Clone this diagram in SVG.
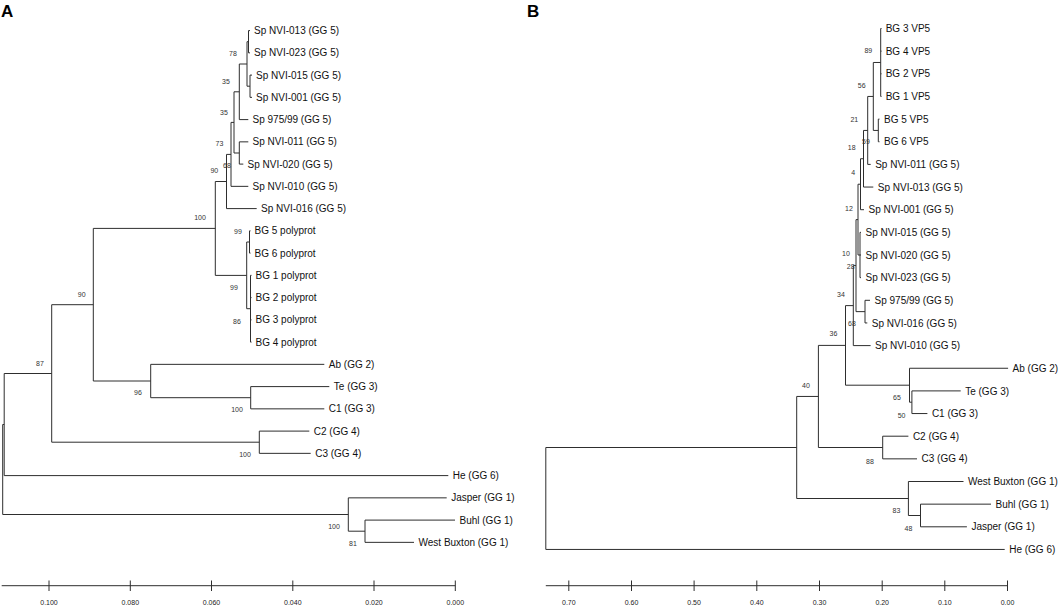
<svg xmlns="http://www.w3.org/2000/svg" width="1059" height="606" viewBox="0 0 1059 606">
<style>
.br{fill:none;stroke:#2e2e2e;stroke-width:1}
.tx{font-family:"Liberation Sans",Arial,sans-serif;font-size:10px;fill:#111}
.bs{font-family:"Liberation Sans",Arial,sans-serif;font-size:7px;fill:#333;text-anchor:middle}
.ax{font-family:"Liberation Sans",Arial,sans-serif;font-size:7px;fill:#222;text-anchor:middle}
.pl{font-family:"Liberation Sans",Arial,sans-serif;font-size:17px;font-weight:bold;fill:#000}
</style>
<rect width="1059" height="606" fill="#fff"/>
<text class="pl" x="1" y="17">A</text>
<text class="pl" x="527" y="17">B</text>

<g id="connectors">
<path id="treeA" class="br" d="M2.7 424.5V514.5M2.7 424.5H4.2M4.2 373.5V475.6M4.2 475.6H448.3
M4.2 373.5H51.7M51.7 304.7V442.2M51.7 304.7H93.3M93.3 228.4V381
M93.3 228.4H215.3M215.3 181.5V275.4M215.3 181.5H226.5M226.5 154.4V208.6M226.5 208.6H256.7
M226.5 154.4H231M231 122.4V186.35M231 186.35H248.3M231 122.4H234M234 91.8V153
M234 153H239.3M239.3 141.85V164.1M239.3 141.85H248.3M239.3 164.1H243.3
M234 91.8H239.3M239.3 64V119.6M239.3 119.6H248.3M239.3 64H247M247 41.7V86.2
M247 41.7H248.5M248.5 30.6V52.85M248.5 30.6H250M248.5 52.85H250
M247 86.2H250M250 75.1V97.35M250 75.1H252M250 97.35H252
M215.3 275.4H246.7M246.7 242V308.7M246.7 242H249.5M249.5 230.85V253.1M249.5 230.85H250.5M249.5 253.1H250.5
M246.7 308.7H250.5M250.5 275.35V342.1M250.5 275.35H251.5M250.5 297.6H251.5M250.5 319.85H251.5M250.5 342.1H251.5
M93.3 381H150.7M150.7 364.35V397.7M150.7 364.35H324.3M150.7 397.7H250.7M250.7 386.6V408.85M250.7 386.6H329.3M250.7 408.85H324.3
M51.7 442.2H259.3M259.3 431.1V453.35M259.3 431.1H309.3M259.3 453.35H310.7
M2.7 514.5H348.3M348.3 497.85V531.2M348.3 497.85H446.7M348.3 531.2H365M365 520.1V542.35M365 520.1H455M365 542.35H414"/>
<path id="treeB" class="br" d="M545.8 447.5V549.45M545.8 549.45H1004.7M545.8 447.5H796.7M796.7 396.45V498.5
M796.7 498.5H908.4M908.4 481.5V515.5M908.4 481.5H963.5M908.4 515.5H920.5M920.5 504.15V526.8M920.5 504.15H991M920.5 526.8H966.9
M796.7 396.45H818.4M818.4 345.4V447.5M818.4 447.5H882.7M882.7 436.2V458.85M882.7 436.2H908.4M882.7 458.85H917
M818.4 345.4H845.5M845.5 305.61V385.2M845.5 385.2H909.5M909.5 368.25V402.2M909.5 368.25H1008.1M909.5 402.2H911.9M911.9 390.9V413.55M911.9 390.9H960.7M911.9 413.55H927.4
M845.5 305.61H853.3M853.3 265.62V345.6M853.3 345.6H870.6M853.3 265.62H856M856 219.61V311.63
M856 311.63H865M865 300.3V322.95M865 300.3H870M865 322.95H867.3
M856 219.61H858M858 184.22V255M858 255H860M860 232.35V277.65M860 232.35H861M860 255H861M860 277.65H861
M858 184.22H860.5M860.5 158.74V209.7M860.5 209.7H864M860.5 158.74H863.5M863.5 130.43V187.05M863.5 187.05H873.3
M863.5 130.43H867.7M867.7 96.45V164.4M867.7 164.4H870.7M867.7 96.45H873.3M873.3 62.48V130.43
M873.3 130.43H878.3M878.3 119.1V141.75M878.3 119.1H879.5M878.3 141.75H879.5
M873.3 62.48H880.7M880.7 28.5V96.45M880.7 28.5H881.5M880.7 51.15H881.5M880.7 73.8H881.5M880.7 96.45H881.5"/>
</g>

<g id="axisA">
<path class="br" d="M1.7 585.7H455.3M49 580.5V591M130.3 580.5V591M211.5 580.5V591M292.8 580.5V591M374 580.5V591M455.3 580.5V591"/>
<text class="ax" x="49" y="604.5">0.100</text>
<text class="ax" x="130.3" y="604.5">0.080</text>
<text class="ax" x="211.5" y="604.5">0.060</text>
<text class="ax" x="292.8" y="604.5">0.040</text>
<text class="ax" x="374" y="604.5">0.020</text>
<text class="ax" x="455.3" y="604.5">0.000</text>
</g>
<g id="axisB">
<path class="br" d="M545.8 585.7H1007.5M568.8 580.5V591M631.5 580.5V591M694.1 580.5V591M756.8 580.5V591M819.5 580.5V591M882.2 580.5V591M944.8 580.5V591M1007.5 580.5V591"/>
<text class="ax" x="568.8" y="604.5">0.70</text>
<text class="ax" x="631.5" y="604.5">0.60</text>
<text class="ax" x="694.1" y="604.5">0.50</text>
<text class="ax" x="756.8" y="604.5">0.40</text>
<text class="ax" x="819.5" y="604.5">0.30</text>
<text class="ax" x="882.2" y="604.5">0.20</text>
<text class="ax" x="944.8" y="604.5">0.10</text>
<text class="ax" x="1007.5" y="604.5">0.00</text>
</g>

<g id="taxaA">
<g id="a-nvi013"><text class="tx" x="254" y="34.2">Sp NVI-013 (GG 5)</text></g>
<g id="a-nvi023"><text class="tx" x="254" y="56.45">Sp NVI-023 (GG 5)</text></g>
<g id="a-nvi015"><text class="tx" x="256" y="78.7">Sp NVI-015 (GG 5)</text></g>
<g id="a-nvi001"><text class="tx" x="256" y="100.95">Sp NVI-001 (GG 5)</text></g>
<g id="a-sp975"><text class="tx" x="252.5" y="123.2">Sp 975/99 (GG 5)</text></g>
<g id="a-nvi011"><text class="tx" x="252.5" y="145.45">Sp NVI-011 (GG 5)</text></g>
<g id="a-nvi020"><text class="tx" x="247.5" y="167.7">Sp NVI-020 (GG 5)</text></g>
<g id="a-nvi010"><text class="tx" x="252.5" y="189.95">Sp NVI-010 (GG 5)</text></g>
<g id="a-nvi016"><text class="tx" x="261" y="212.2">Sp NVI-016 (GG 5)</text></g>
<g id="a-bg5"><text class="tx" x="254.5" y="234.45">BG 5 polyprot</text></g>
<g id="a-bg6"><text class="tx" x="254.5" y="256.7">BG 6 polyprot</text></g>
<g id="a-bg1"><text class="tx" x="255.5" y="278.95">BG 1 polyprot</text></g>
<g id="a-bg2"><text class="tx" x="255.5" y="301.2">BG 2 polyprot</text></g>
<g id="a-bg3"><text class="tx" x="255.5" y="323.45">BG 3 polyprot</text></g>
<g id="a-bg4"><text class="tx" x="255.5" y="345.7">BG 4 polyprot</text></g>
<g id="a-ab"><text class="tx" x="328.8" y="367.95">Ab (GG 2)</text></g>
<g id="a-te"><text class="tx" x="333.8" y="390.2">Te (GG 3)</text></g>
<g id="a-c1"><text class="tx" x="328.8" y="412.45">C1 (GG 3)</text></g>
<g id="a-c2"><text class="tx" x="313.8" y="434.7">C2 (GG 4)</text></g>
<g id="a-c3"><text class="tx" x="315.2" y="456.95">C3 (GG 4)</text></g>
<g id="a-he"><text class="tx" x="452.8" y="479.2">He (GG 6)</text></g>
<g id="a-jasper"><text class="tx" x="451.2" y="501.45">Jasper (GG 1)</text></g>
<g id="a-buhl"><text class="tx" x="459.5" y="523.7">Buhl (GG 1)</text></g>
<g id="a-wb"><text class="tx" x="418.5" y="545.95">West Buxton (GG 1)</text></g>
</g>

<g id="bootA">
<text class="bs" x="233" y="55.5">78</text>
<text class="bs" x="226" y="83.5">35</text>
<text class="bs" x="224" y="114.5">35</text>
<text class="bs" x="219.5" y="145.8">73</text>
<text class="bs" x="227" y="167.5">68</text>
<text class="bs" x="214.3" y="172.5">90</text>
<text class="bs" x="200" y="219.5">100</text>
<text class="bs" x="238" y="233.5">99</text>
<text class="bs" x="234" y="289.5">99</text>
<text class="bs" x="237" y="323.5">86</text>
<text class="bs" x="81.7" y="296.5">90</text>
<text class="bs" x="40" y="365.5">87</text>
<text class="bs" x="138" y="394.5">96</text>
<text class="bs" x="237" y="411.5">100</text>
<text class="bs" x="245" y="456.5">100</text>
<text class="bs" x="334" y="528.5">100</text>
<text class="bs" x="353" y="545.5">81</text>
</g>

<g id="taxaB">
<g id="b-bg3"><text class="tx" x="885.7" y="32.1">BG 3 VP5</text></g>
<g id="b-bg4"><text class="tx" x="885.7" y="54.75">BG 4 VP5</text></g>
<g id="b-bg2"><text class="tx" x="885.7" y="77.4">BG 2 VP5</text></g>
<g id="b-bg1"><text class="tx" x="885.7" y="100.05">BG 1 VP5</text></g>
<g id="b-bg5"><text class="tx" x="884" y="122.7">BG 5 VP5</text></g>
<g id="b-bg6"><text class="tx" x="884" y="145.35">BG 6 VP5</text></g>
<g id="b-nvi011"><text class="tx" x="875.2" y="168">Sp NVI-011 (GG 5)</text></g>
<g id="b-nvi013"><text class="tx" x="877.8" y="190.65">Sp NVI-013 (GG 5)</text></g>
<g id="b-nvi001"><text class="tx" x="868.5" y="213.3">Sp NVI-001 (GG 5)</text></g>
<g id="b-nvi015"><text class="tx" x="865.5" y="235.95">Sp NVI-015 (GG 5)</text></g>
<g id="b-nvi020"><text class="tx" x="865.5" y="258.6">Sp NVI-020 (GG 5)</text></g>
<g id="b-nvi023"><text class="tx" x="865.5" y="281.25">Sp NVI-023 (GG 5)</text></g>
<g id="b-sp975"><text class="tx" x="874.5" y="303.9">Sp 975/99 (GG 5)</text></g>
<g id="b-nvi016"><text class="tx" x="871.8" y="326.55">Sp NVI-016 (GG 5)</text></g>
<g id="b-nvi010"><text class="tx" x="875.1" y="349.2">Sp NVI-010 (GG 5)</text></g>
<g id="b-ab"><text class="tx" x="1012.6" y="371.85">Ab (GG 2)</text></g>
<g id="b-te"><text class="tx" x="965.2" y="394.5">Te (GG 3)</text></g>
<g id="b-c1"><text class="tx" x="931.9" y="417.15">C1 (GG 3)</text></g>
<g id="b-c2"><text class="tx" x="912.9" y="439.8">C2 (GG 4)</text></g>
<g id="b-c3"><text class="tx" x="921.5" y="462.45">C3 (GG 4)</text></g>
<g id="b-wb"><text class="tx" x="968" y="485.1">West Buxton (GG 1)</text></g>
<g id="b-buhl"><text class="tx" x="995.5" y="507.75">Buhl (GG 1)</text></g>
<g id="b-jasper"><text class="tx" x="971.4" y="530.4">Jasper (GG 1)</text></g>
<g id="b-he"><text class="tx" x="1009.2" y="553.05">He (GG 6)</text></g>
</g>

<g id="bootB">
<text class="bs" x="868.3" y="53.2">89</text>
<text class="bs" x="861.7" y="87.5">56</text>
<text class="bs" x="854.3" y="121.5">21</text>
<text class="bs" x="866" y="144">59</text>
<text class="bs" x="851.7" y="149.5">18</text>
<text class="bs" x="853.3" y="174.8">4</text>
<text class="bs" x="849" y="211">12</text>
<text class="bs" x="846" y="256">10</text>
<text class="bs" x="850.7" y="269.2">28</text>
<text class="bs" x="841" y="296.5">34</text>
<text class="bs" x="852" y="325.5">68</text>
<text class="bs" x="833.5" y="336">36</text>
<text class="bs" x="806" y="388">40</text>
<text class="bs" x="897" y="400">65</text>
<text class="bs" x="901.6" y="418">50</text>
<text class="bs" x="870" y="463.5">88</text>
<text class="bs" x="896.4" y="513">83</text>
<text class="bs" x="908.4" y="530.5">48</text>
</g>
</svg>
